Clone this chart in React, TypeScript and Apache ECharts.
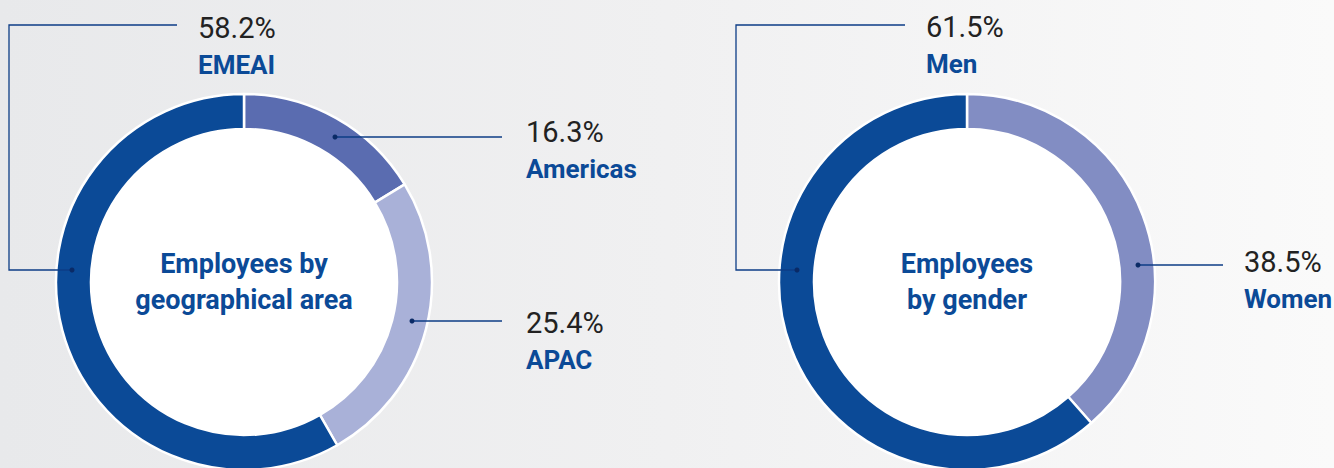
import React, { useEffect, useRef } from "react";
import * as echarts from "echarts";

const geoNames = ["Americas", "APAC", "EMEAI"];
const geoValues = [16.3, 25.4, 58.2];
const geoColors = ["#5a6cb0", "#a9b1d8", "#0b4a97"];

const genderNames = ["Women", "Men"];
const genderValues = [38.5, 61.5];
const genderColors = ["#828dc3", "#0b4a97"];

const centerTitles = ["Employees by\ngeographical area", "Employees\nby gender"];

const FONT = "Roboto, 'Noto Sans', sans-serif";
const NAVY = "#0b4a97";
const LINE = "#0d3d86";

type Ann = { name: string; value: number; pts: number[][]; tx: number; ty: number };

const annotations: Ann[] = [
  { name: geoNames[2], value: geoValues[2], pts: [[72, 270], [9, 270], [9, 25], [177, 25]], tx: 198, ty: 28 },
  { name: geoNames[0], value: geoValues[0], pts: [[335, 137], [502, 137]], tx: 526, ty: 132 },
  { name: geoNames[1], value: geoValues[1], pts: [[412, 321], [502, 321]], tx: 526, ty: 323 },
  { name: genderNames[1], value: genderValues[1], pts: [[797, 270], [736, 270], [736, 25], [905, 25]], tx: 926, ty: 27 },
  { name: genderNames[0], value: genderValues[0], pts: [[1138, 265], [1223, 265]], tx: 1244, ty: 262 },
];

function donut(center: number[], names: string[], values: number[], colors: string[]) {
  return {
    type: "pie",
    center,
    radius: [153, 188],
    startAngle: 90,
    clockwise: true,
    silent: true,
    z: 2,
    label: { show: false },
    labelLine: { show: false },
    itemStyle: { borderColor: "#ffffff", borderWidth: 2.5 },
    data: names.map((n, i) => ({ name: n, value: values[i], itemStyle: { color: colors[i] } })),
  };
}

function inner(center: number[], title: string) {
  return {
    type: "pie",
    center,
    radius: [0, 153],
    silent: true,
    z: 2,
    labelLine: { show: false },
    label: {
      show: true,
      position: "center",
      formatter: title,
      color: NAVY,
      fontFamily: FONT,
      fontWeight: "bold",
      fontSize: 27,
      lineHeight: 36,
    },
    itemStyle: { color: "#ffffff" },
    data: [{ name: "c", value: 1 }],
  };
}

export default function App() {
  const ref = useRef<HTMLDivElement>(null);
  useEffect(() => {
    if (!ref.current) return;
    const chart = echarts.init(ref.current, undefined, { renderer: "svg" });
    const graphics: any[] = [];
    annotations.forEach((a) => {
      graphics.push({
        type: "polyline",
        silent: true,
        z: 100,
        shape: { points: a.pts },
        style: { stroke: LINE, lineWidth: 1.3, fill: null },
      });
      graphics.push({
        type: "circle",
        silent: true,
        z: 101,
        shape: { cx: a.pts[0][0], cy: a.pts[0][1], r: 2.5 },
        style: { fill: "#0a2a66" },
      });
      graphics.push({
        type: "text",
        z: 100,
        x: a.tx,
        y: a.ty,
        style: {
          text: a.value.toFixed(1) + "%",
          fill: "#222222",
          font: `400 29px ${FONT}`,
          verticalAlign: "middle",
          align: "left",
        },
      });
      graphics.push({
        type: "text",
        z: 100,
        x: a.tx,
        y: a.ty + 37,
        style: {
          text: a.name,
          fill: NAVY,
          font: `bold 26px ${FONT}`,
          verticalAlign: "middle",
          align: "left",
        },
      });
    });
    chart.setOption({
      animation: false,
      series: [
        inner([244, 282], centerTitles[0]),
        donut([244, 282], geoNames, geoValues, geoColors),
        inner([967, 282], centerTitles[1]),
        donut([967, 282], genderNames, genderValues, genderColors),
      ],
      graphic: graphics,
    });
    return () => chart.dispose();
  }, []);
  return (
    <div
      style={{
        position: "fixed",
        left: 0,
        top: 0,
        width: 1334,
        height: 468,
        background: "linear-gradient(to right, #e8e9eb 0%, #f0f0f1 50%, #fafafa 100%)",
      }}
    >
      <div ref={ref} style={{ width: 1334, height: 468 }} />
    </div>
  );
}
